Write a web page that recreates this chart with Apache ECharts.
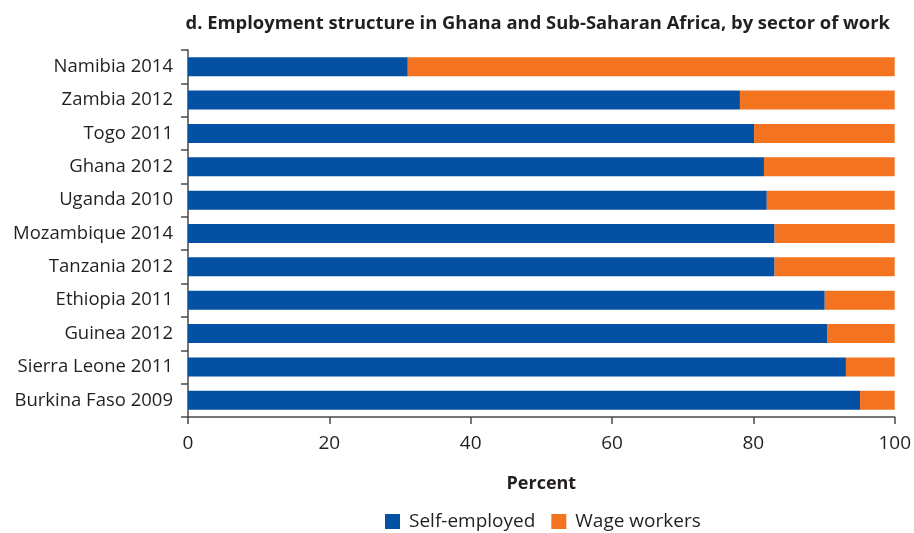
<!DOCTYPE html>
<html>
<head>
<meta charset="utf-8">
<script src="https://cdn.jsdelivr.net/npm/echarts@6/dist/echarts.min.js"></script>
<style>
  html, body { margin: 0; padding: 0; background: #fff; }
  #chart { width: 914px; height: 533px; }
</style>
</head>
<body>
<div id="chart"></div>
<script>
// categories, top to bottom
const countries = ['Namibia 2014', 'Zambia 2012', 'Togo 2011', 'Ghana 2012', 'Uganda 2010',
  'Mozambique 2014', 'Tanzania 2012', 'Ethiopia 2011', 'Guinea 2012', 'Sierra Leone 2011',
  'Burkina Faso 2009']
const selfEmployed = [31.1, 78.1, 80.1, 81.5, 81.9, 83.0, 83.0, 90.1, 90.5, 93.1, 95.1]
const wageWorkers = [68.9, 21.9, 19.9, 18.5, 18.1, 17.0, 17.0, 9.9, 9.5, 6.9, 4.9]
const xTicks = [0, 20, 40, 60, 80, 100]

const font = '"Open Sans", "Noto Sans", sans-serif'
const textColor = '#231f20'
const axisColor = '#4a4a4a'

const chart = echarts.init(document.getElementById('chart'))

const option = {
  animation: false,
  textStyle: { fontFamily: font, color: textColor },
  title: {
    text: 'd. Employment structure in Ghana and Sub-Saharan Africa, by sector of work',
    right: 19,
    top: 10,
    textStyle: { fontFamily: font, fontSize: 18.4, fontWeight: 'bold', color: textColor },
  },
  legend: {
    top: 507,
    left: 380,
    itemWidth: 15,
    itemHeight: 15,
    itemGap: 16,
    icon: 'rect',
    textStyle: { fontFamily: font, fontSize: 19, color: textColor, padding: [0, 0, 0, 4] },
    data: ['Self-employed', 'Wage workers'],
  },
  grid: {
    left: 188,
    right: 17,
    top: 50,
    bottom: 116,
    containLabel: false,
  },
  xAxis: {
    type: 'value',
    min: xTicks[0],
    max: xTicks[xTicks.length - 1],
    interval: 20,
    name: 'Percent',
    nameLocation: 'middle',
    nameGap: 58,
    nameTextStyle: { fontFamily: font, fontSize: 18, fontWeight: 'bold', color: textColor },
    axisLine: { show: true, lineStyle: { color: axisColor, width: 1.5 } },
    axisTick: { show: true, length: 7, lineStyle: { color: axisColor, width: 1.5 } },
    axisLabel: { fontFamily: font, fontSize: 19, color: textColor, margin: 17 },
    splitLine: { show: false },
  },
  yAxis: {
    type: 'category',
    data: countries,
    inverse: true,
    axisLine: { show: true, lineStyle: { color: axisColor, width: 1.5 } },
    axisTick: { show: true, length: 7, lineStyle: { color: axisColor, width: 1.5 } },
    axisLabel: { fontFamily: font, fontSize: 18.5, color: textColor, margin: 15 },
  },
  series: [
    {
      name: 'Self-employed',
      type: 'bar',
      stack: 'total',
      barWidth: 19,
      itemStyle: { color: '#0450a3' },
      data: selfEmployed,
    },
    {
      name: 'Wage workers',
      type: 'bar',
      stack: 'total',
      barWidth: 19,
      itemStyle: { color: '#f37321' },
      data: wageWorkers,
    },
  ],
}

chart.setOption(option)
</script>
</body>
</html>
